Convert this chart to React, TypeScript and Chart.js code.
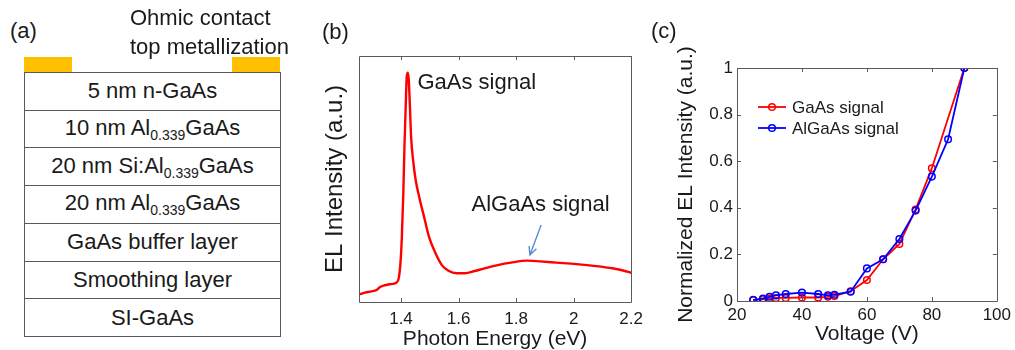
import React, { useEffect, useRef } from "react";
import { Chart, registerables } from "chart.js";

Chart.register(...registerables);

const FONT = "'Liberation Sans', Arial, Helvetica, sans-serif";
const TEXT = "#1a1a1a";
const BOX = "#5a5a5a";

// ---------- Panel (a): layer stack ----------
const layerPrefix = ["5 nm n-GaAs", "10 nm Al", "20 nm Si:Al", "20 nm Al", "GaAs buffer layer", "Smoothing layer", "SI-GaAs"];
const layerSub = ["", "0.339", "0.339", "0.339", "", "", ""];
const layerSuffix = ["", "GaAs", "GaAs", "GaAs", "", "", ""];
const contactLines = ["Ohmic contact", "top metallization"];

// ---------- Panel (b): EL spectrum ----------
const photonEnergy = [
  1.254, 1.275, 1.297, 1.315, 1.326, 1.343, 1.36, 1.377, 1.385, 1.392, 1.398, 1.403, 1.408, 1.412, 1.417,
  1.42, 1.424, 1.427, 1.431, 1.435, 1.442, 1.451, 1.463, 1.48, 1.497, 1.52, 1.542, 1.565, 1.594, 1.622,
  1.656, 1.691, 1.736, 1.782, 1.839, 1.884, 1.941, 2.01, 2.078, 2.135, 2.169, 2.2,
];
const elIntensity = [
  0.031, 0.038, 0.043, 0.049, 0.06, 0.068, 0.072, 0.075, 0.08, 0.096, 0.157, 0.266, 0.442, 0.631, 0.821,
  0.916, 0.932, 0.902, 0.794, 0.672, 0.577, 0.496, 0.428, 0.347, 0.266, 0.198, 0.15, 0.127, 0.117, 0.117,
  0.126, 0.137, 0.15, 0.16, 0.168, 0.165, 0.16, 0.154, 0.146, 0.137, 0.129, 0.119,
];
const energyTicks = [1.4, 1.6, 1.8, 2.0, 2.2];
const energyMin = 1.254;
const energyMax = 2.2;
const noteLabels = ["GaAs signal", "AlGaAs signal"];
const noteEnergy = [1.457, 1.645];
const noteLevel = [0.889, 0.394];
const arrowStart = [1.887, 0.313];
const arrowEnd = [1.848, 0.191];

// ---------- Panel (c): normalized EL vs voltage ----------
const seriesNames = ["GaAs signal", "AlGaAs signal"];
const gaasVoltage = [25, 28, 30, 32, 35, 40, 45, 48, 50, 55, 60, 65, 70, 75, 80, 90];
const gaasSignal = [0.005, 0.007, 0.011, 0.013, 0.013, 0.015, 0.015, 0.018, 0.021, 0.042, 0.09, 0.179, 0.245, 0.393, 0.57, 1.0];
const algaasVoltage = [25, 28, 30, 32, 35, 40, 45, 48, 50, 55, 60, 65, 70, 75, 80, 85, 90];
const algaasSignal = [0.004, 0.011, 0.018, 0.024, 0.03, 0.036, 0.03, 0.024, 0.027, 0.04, 0.14, 0.179, 0.266, 0.388, 0.534, 0.694, 1.0];
const voltageTicks = [20, 40, 60, 80, 100];
const normTicks = [0, 0.2, 0.4, 0.6, 0.8, 1];

// ---------- plugins ----------
const boxPlugin = {
  id: "matlabBox",
  afterDatasetsDraw(chart: any, _args: any, opts: any) {
    const { ctx, chartArea, scales } = chart;
    const { left, right, top, bottom } = chartArea;
    const len = opts.tickLength || 4;
    ctx.save();
    ctx.strokeStyle = BOX;
    ctx.lineWidth = 1;
    ctx.beginPath();
    ctx.rect(Math.round(left) + 0.5, Math.round(top) + 0.5, Math.round(right - left), Math.round(bottom - top));
    if (opts.xTicks) {
      scales.x.ticks.forEach((t: any) => {
        const px = Math.round(scales.x.getPixelForValue(t.value)) + 0.5;
        ctx.moveTo(px, bottom);
        ctx.lineTo(px, bottom - len);
        ctx.moveTo(px, top);
        ctx.lineTo(px, top + len);
      });
    }
    if (opts.yTicks) {
      scales.y.ticks.forEach((t: any) => {
        const py = Math.round(scales.y.getPixelForValue(t.value)) + 0.5;
        ctx.moveTo(left, py);
        ctx.lineTo(left + len, py);
        ctx.moveTo(right, py);
        ctx.lineTo(right - len, py);
      });
    }
    ctx.stroke();
    ctx.restore();
  },
};

const notesPlugin = {
  id: "spectrumNotes",
  afterDatasetsDraw(chart: any) {
    const { ctx, scales } = chart;
    const { x, y } = scales;
    ctx.save();
    ctx.font = `22px ${FONT}`;
    ctx.fillStyle = TEXT;
    ctx.textBaseline = "middle";
    ctx.textAlign = "left";
    noteLabels.forEach((t, i) => {
      ctx.fillText(t, x.getPixelForValue(noteEnergy[i]), y.getPixelForValue(noteLevel[i]));
    });
    const x1 = x.getPixelForValue(arrowStart[0]);
    const y1 = y.getPixelForValue(arrowStart[1]);
    const x2 = x.getPixelForValue(arrowEnd[0]);
    const y2 = y.getPixelForValue(arrowEnd[1]);
    const ang = Math.atan2(y2 - y1, x2 - x1);
    const head = 9;
    const spread = 0.45;
    ctx.strokeStyle = "#5b8bcf";
    ctx.lineWidth = 1.4;
    ctx.beginPath();
    ctx.moveTo(x1, y1);
    ctx.lineTo(x2, y2);
    ctx.moveTo(x2 - head * Math.cos(ang - spread), y2 - head * Math.sin(ang - spread));
    ctx.lineTo(x2, y2);
    ctx.lineTo(x2 - head * Math.cos(ang + spread), y2 - head * Math.sin(ang + spread));
    ctx.stroke();
    ctx.restore();
  },
};

const insetLegend = {
  id: "insetLegend",
  afterDatasetsDraw(chart: any) {
    const { ctx, chartArea } = chart;
    ctx.save();
    ctx.font = `17px ${FONT}`;
    ctx.textBaseline = "middle";
    ctx.textAlign = "left";
    chart.data.datasets.forEach((ds: any, i: number) => {
      const yy = chartArea.top + 39 + i * 21;
      const x0 = chartArea.left + 21;
      ctx.strokeStyle = ds.borderColor;
      ctx.lineWidth = ds.borderWidth;
      ctx.beginPath();
      ctx.moveTo(x0, yy);
      ctx.lineTo(x0 + 28, yy);
      ctx.stroke();
      ctx.lineWidth = ds.pointBorderWidth;
      ctx.beginPath();
      ctx.arc(x0 + 14, yy, ds.pointRadius, 0, Math.PI * 2);
      ctx.stroke();
      ctx.fillStyle = TEXT;
      ctx.fillText(ds.label, x0 + 34, yy + 1);
    });
    ctx.restore();
  },
};

function SpectrumChart() {
  const ref = useRef<HTMLCanvasElement>(null);
  useEffect(() => {
    const chart = new Chart(ref.current as HTMLCanvasElement, {
      type: "line",
      data: {
        datasets: [
          {
            label: "EL",
            data: photonEnergy.map((e, i) => ({ x: e, y: elIntensity[i] })),
            borderColor: "#ff0000",
            borderWidth: 2.4,
            pointRadius: 0,
            cubicInterpolationMode: "monotone",
            fill: false,
          },
        ],
      },
      options: {
        responsive: false,
        animation: false,
        layout: { padding: { left: 0, right: 14, top: 56, bottom: 0 } },
        plugins: {
          legend: { display: false },
          tooltip: { enabled: false },
          matlabBox: { xTicks: true, yTicks: false, tickLength: 4 },
        } as any,
        scales: {
          x: {
            type: "linear",
            min: energyMin,
            max: energyMax,
            afterBuildTicks: (s: any) => {
              s.ticks = energyTicks.map((v) => ({ value: v }));
            },
            afterFit: (s: any) => {
              s.height = 48;
            },
            grid: { display: false, drawTicks: false },
            border: { display: false },
            ticks: {
              color: TEXT,
              font: { family: FONT, size: 17 },
              padding: 7,
              maxRotation: 0,
              autoSkip: false,
              callback: (v: any) => String(Number(v)),
            },
            title: {
              display: true,
              text: "Photon Energy (eV)",
              color: TEXT,
              font: { family: FONT, size: 21, lineHeight: 1 },
              padding: { top: 0, bottom: 0 },
            },
          },
          y: {
            type: "linear",
            min: 0,
            max: 1,
            afterFit: (s: any) => {
              s.width = 49;
            },
            grid: { display: false, drawTicks: false },
            border: { display: false },
            ticks: { display: false },
            title: {
              display: true,
              text: "EL Intensity (a.u.)",
              color: TEXT,
              font: { family: FONT, size: 24, lineHeight: 1 },
              padding: { top: 13, bottom: 0 },
            },
          },
        },
      } as any,
      plugins: [boxPlugin, notesPlugin],
    });
    return () => chart.destroy();
  }, []);
  return (
    <canvas
      ref={ref}
      width={340}
      height={350}
      style={{ position: "absolute", left: 310, top: 0, width: 340, height: 350 }}
    />
  );
}

function VoltageChart() {
  const ref = useRef<HTMLCanvasElement>(null);
  useEffect(() => {
    const chart = new Chart(ref.current as HTMLCanvasElement, {
      type: "line",
      data: {
        datasets: [
          {
            label: seriesNames[0],
            data: gaasVoltage.map((v, i) => ({ x: v, y: gaasSignal[i] })),
            borderColor: "#ff0000",
            borderWidth: 1.8,
            pointRadius: 3.3,
            pointBorderWidth: 1.5,
            pointBorderColor: "#ff0000",
            pointBackgroundColor: "rgba(0,0,0,0)",
            order: 1,
          },
          {
            label: seriesNames[1],
            data: algaasVoltage.map((v, i) => ({ x: v, y: algaasSignal[i] })),
            borderColor: "#0000ff",
            borderWidth: 1.8,
            pointRadius: 3.3,
            pointBorderWidth: 1.5,
            pointBorderColor: "#0000ff",
            pointBackgroundColor: "rgba(0,0,0,0)",
            order: 0,
          },
        ],
      },
      options: {
        responsive: false,
        animation: false,
        layout: { padding: { left: 0, right: 15, top: 68, bottom: 0 } },
        plugins: {
          legend: { display: false },
          tooltip: { enabled: false },
          matlabBox: { xTicks: true, yTicks: true, tickLength: 4 },
        } as any,
        scales: {
          x: {
            type: "linear",
            min: 20,
            max: 100,
            afterBuildTicks: (s: any) => {
              s.ticks = voltageTicks.map((v) => ({ value: v }));
            },
            afterFit: (s: any) => {
              s.height = 49;
            },
            grid: { display: false, drawTicks: false },
            border: { display: false },
            ticks: {
              color: TEXT,
              font: { family: FONT, size: 17 },
              padding: 4,
              maxRotation: 0,
              autoSkip: false,
            },
            title: {
              display: true,
              text: "Voltage (V)",
              color: TEXT,
              font: { family: FONT, size: 21, lineHeight: 1 },
              padding: { top: 0, bottom: 5.5 },
            },
          },
          y: {
            type: "linear",
            min: 0,
            max: 1,
            afterBuildTicks: (s: any) => {
              s.ticks = normTicks.map((v) => ({ value: v }));
            },
            afterFit: (s: any) => {
              s.width = 77;
            },
            grid: { display: false, drawTicks: false },
            border: { display: false },
            ticks: {
              color: TEXT,
              font: { family: FONT, size: 17 },
              padding: 4,
              autoSkip: false,
              callback: (v: any) => String(Number(Number(v).toFixed(1))),
            },
            title: {
              display: true,
              text: "Normalized EL Intensity (a.u.)",
              color: TEXT,
              font: { family: FONT, size: 21, lineHeight: 1 },
              padding: { top: 15.5, bottom: 0 },
            },
          },
        },
      } as any,
      plugins: [boxPlugin, insetLegend],
    });
    return () => chart.destroy();
  }, []);
  return (
    <canvas
      ref={ref}
      width={355}
      height={350}
      style={{ position: "absolute", left: 660, top: 0, width: 355, height: 350 }}
    />
  );
}

function LayerStack() {
  const rowH = 264 / layerPrefix.length;
  return (
    <>
      <div style={{ position: "absolute", left: 24, top: 57, width: 48, height: 16, background: "#ffc000" }} />
      <div style={{ position: "absolute", left: 232, top: 57, width: 48, height: 16, background: "#ffc000" }} />
      <div
        style={{
          position: "absolute",
          left: 24,
          top: 72,
          width: 257,
          height: 265,
          border: `1px solid ${BOX}`,
          boxSizing: "border-box",
        }}
      >
        {layerPrefix.map((p, i) => (
          <div
            key={i}
            style={{
              position: "absolute",
              left: 0,
              right: 0,
              top: i * rowH - 1,
              height: rowH,
              borderTop: i === 0 ? "none" : `1px solid ${BOX}`,
              boxSizing: "border-box",
              display: "flex",
              alignItems: "center",
              justifyContent: "center",
              fontSize: 22,
              color: TEXT,
              whiteSpace: "nowrap",
              lineHeight: "22px",
            }}
          >
            <span>
              {p}
              {layerSub[i] ? (
                <span style={{ fontSize: 14, position: "relative", top: 5 }}>{layerSub[i]}</span>
              ) : null}
              {layerSuffix[i]}
            </span>
          </div>
        ))}
      </div>
    </>
  );
}

export default function App() {
  const label = (text: string, left: number, cy: number) => (
    <div
      style={{
        position: "absolute",
        left,
        top: cy - 14,
        height: 28,
        lineHeight: "28px",
        fontSize: 22,
        color: TEXT,
        whiteSpace: "nowrap",
      }}
    >
      {text}
    </div>
  );
  return (
    <div
      style={{
        position: "fixed",
        left: 0,
        top: 0,
        width: 1015,
        height: 350,
        overflow: "hidden",
        background: "#ffffff",
        fontFamily: FONT,
      }}
    >
      <LayerStack />
      <SpectrumChart />
      <VoltageChart />
      {label("(a)", 10, 31)}
      {label(contactLines[0], 130, 18)}
      {label(contactLines[1], 130, 47)}
      {label("(b)", 322, 32)}
      {label("(c)", 651, 31)}
    </div>
  );
}
